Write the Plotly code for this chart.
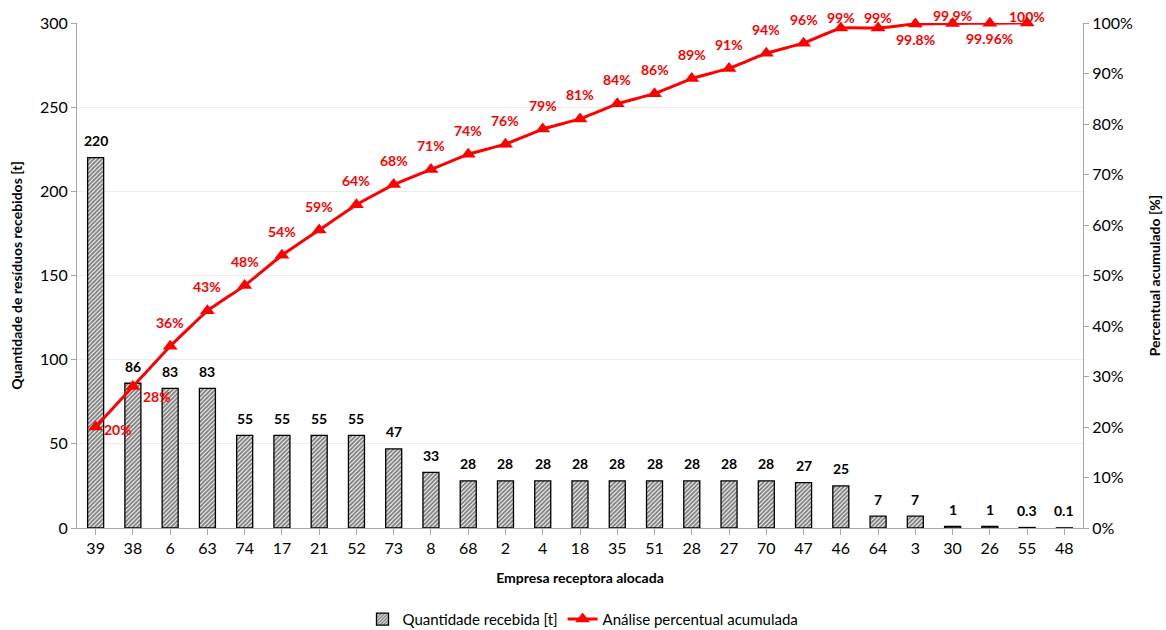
import plotly.graph_objects as go

empresas = ["39", "38", "6", "63", "74", "17", "21", "52", "73", "8", "68", "2", "4", "18",
            "35", "51", "28", "27", "70", "47", "46", "64", "3", "30", "26", "55", "48"]
quantidade = [220, 86, 83, 83, 55, 55, 55, 55, 47, 33, 28, 28, 28, 28,
              28, 28, 28, 28, 28, 27, 25, 7, 7, 1, 1, 0.3, 0.1]
quantidade_txt = ["220", "86", "83", "83", "55", "55", "55", "55", "47", "33", "28", "28", "28", "28",
                  "28", "28", "28", "28", "28", "27", "25", "7", "7", "1", "1", "0.3", "0.1"]
acumulado = [20, 28, 36, 43, 48, 54, 59, 64, 68, 71, 74, 76, 79, 81, 84, 86, 89, 91, 94, 96,
             99, 99, 99.8, 99.9, 99.96, 100]
acumulado_txt = ["20%", "28%", "36%", "43%", "48%", "54%", "59%", "64%", "68%", "71%", "74%",
                 "76%", "79%", "81%", "84%", "86%", "89%", "91%", "94%", "96%", "99%", "99%",
                 "99.8%", "99.9%", "99.96%", "100%"]

FONT = "Lato"
RED = "#ff0000"
pos = list(range(len(empresas)))

# pixel offsets of the percentage labels relative to their markers
label_dx = [22, 24] + [0] * 24
label_dy = [-2, -10] + [24] * 18 + [11, 11, -15, 8, -15, 7]

fig = go.Figure()

fig.add_trace(go.Bar(
    x=pos, y=quantidade, name="Quantidade recebida [t]",
    width=0.43,
    marker=dict(color="white", line=dict(color="black", width=1.3),
                pattern=dict(shape="/", fgcolor="black", bgcolor="white", size=3, solidity=0.65)),
))

fig.add_trace(go.Scatter(
    x=pos[:len(acumulado)], y=acumulado, yaxis="y2", name="Análise percentual acumulada",
    mode="lines+markers",
    line=dict(color=RED, width=3, shape="spline", smoothing=0.3),
    marker=dict(symbol="triangle-up", size=13, color=RED),
    cliponaxis=False,
))

# value labels above the bars
annotations = [
    dict(x=xi, y=v, xref="x", yref="y", text=t, showarrow=False, yshift=17,
         font=dict(family=FONT, size=14, color="black", weight="bold"))
    for xi, v, t in zip(pos, quantidade, quantidade_txt)
]
# cumulative percentage labels
annotations += [
    dict(x=xi, y=yi, xref="x", yref="y2", text=t, showarrow=False,
         xshift=dx, yshift=dy,
         font=dict(family=FONT, size=14, color=RED, weight="bold"))
    for xi, yi, t, dx, dy in zip(pos, acumulado, acumulado_txt, label_dx, label_dy)
]

axis_col = "#a6a6a6"
fig.update_layout(
    width=1166, height=630,
    margin=dict(l=77, r=83, t=23, b=102),
    paper_bgcolor="white", plot_bgcolor="white",
    font=dict(family=FONT, size=16, color="black"),
    annotations=annotations,
    xaxis=dict(
        range=[-0.5, 26.5], tickvals=pos, ticktext=empresas, automargin=False,
        tickson="boundaries", ticks="outside", ticklen=6, tickcolor=axis_col,
        showline=True, linecolor=axis_col, linewidth=1, showgrid=False,
        tickfont=dict(family=FONT, size=16),
        title=dict(text="Empresa receptora alocada", standoff=16,
                   font=dict(family=FONT, size=14, weight="bold")),
    ),
    yaxis=dict(
        range=[0, 300], dtick=50, ticks="outside", ticklen=5, tickcolor=axis_col,
        showline=True, linecolor=axis_col, linewidth=1, automargin=False,
        showgrid=True, gridcolor="#ececec", gridwidth=1, zeroline=False,
        tickfont=dict(family=FONT, size=16),
        title=dict(text="Quantidade de resíduos recebidos [t]", standoff=14,
                   font=dict(family=FONT, size=14, weight="bold")),
    ),
    yaxis2=dict(
        range=[0, 100], dtick=10, ticksuffix="%", overlaying="y", side="right",
        ticks="outside", ticklen=5, tickcolor=axis_col, automargin=False,
        showline=True, linecolor=axis_col, linewidth=1, showgrid=False, zeroline=False,
        tickfont=dict(family=FONT, size=16),
        title=dict(text="Percentual acumulado [%]", standoff=18,
                   font=dict(family=FONT, size=14, weight="bold")),
    ),
    legend=dict(orientation="h", x=0.5, xanchor="center", xref="container",
                y=0.017, yanchor="middle", yref="container",
                font=dict(family=FONT, size=15)),
    showlegend=True,
)

fig.write_html("out.html")
